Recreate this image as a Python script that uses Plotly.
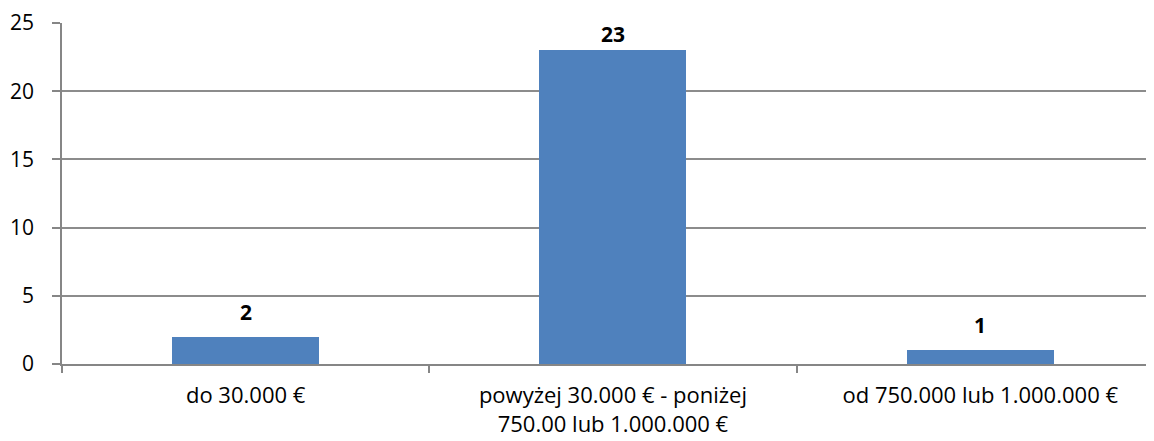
import plotly.graph_objects as go

categories = ["do 30.000 €", "powyżej 30.000 € - poniżej<br>750.00 lub 1.000.000 €", "od 750.000 lub 1.000.000 €"]
values = [2, 23, 1]
y_ticks = [0, 5, 10, 15, 20, 25]

FONT = "'Open Sans', sans-serif"
Y_MAX = 25
PLOT_H = 341  # px height of plot area
MIN_TOP_GAP = 11  # label centre kept at least this far below plot top

fig = go.Figure()
fig.add_trace(go.Bar(
    x=categories, y=values, width=0.4,
    marker=dict(color="#4F81BD", line=dict(width=0)),
    hoverinfo="skip",
))
for c, v in zip(categories, values):
    bar_top_from_plot_top = (Y_MAX - v) * PLOT_H / Y_MAX
    shift = min(25, bar_top_from_plot_top - MIN_TOP_GAP)
    fig.add_annotation(x=c, y=v, text="<b>%d</b>" % v, showarrow=False,
                       yanchor="middle", yshift=shift,
                       font=dict(family=FONT, size=21, color="#000000"))

fig.update_layout(
    width=1146, height=433,
    margin=dict(l=54, r=7, t=15, b=77),
    paper_bgcolor="white", plot_bgcolor="white",
    showlegend=False,
    bargap=0,
    font=dict(family=FONT, size=21, color="#000000"),
)
fig.update_xaxes(
    type="category", range=[-0.5, 2.454],
    showline=True, linecolor="#868686", linewidth=1.5,
    ticks="outside", tickson="boundaries", ticklen=7, tickcolor="#868686", tickwidth=1.5,
    showgrid=False, tickfont=dict(family=FONT, size=22), ticklabelstandoff=11,
    automargin=False,
)
fig.update_yaxes(
    range=[0, Y_MAX], tickvals=y_ticks, ticktext=[str(t) for t in y_ticks],
    showline=True, linecolor="#868686", linewidth=1.5,
    ticks="outside", ticklen=8, tickcolor="#868686", tickwidth=1.5,
    showgrid=True, gridcolor="#8c8c8c", gridwidth=1.5,
    zeroline=False, tickfont=dict(family=FONT, size=21), ticklabelstandoff=14,
    automargin=False,
)
fig.write_html("out.html")
